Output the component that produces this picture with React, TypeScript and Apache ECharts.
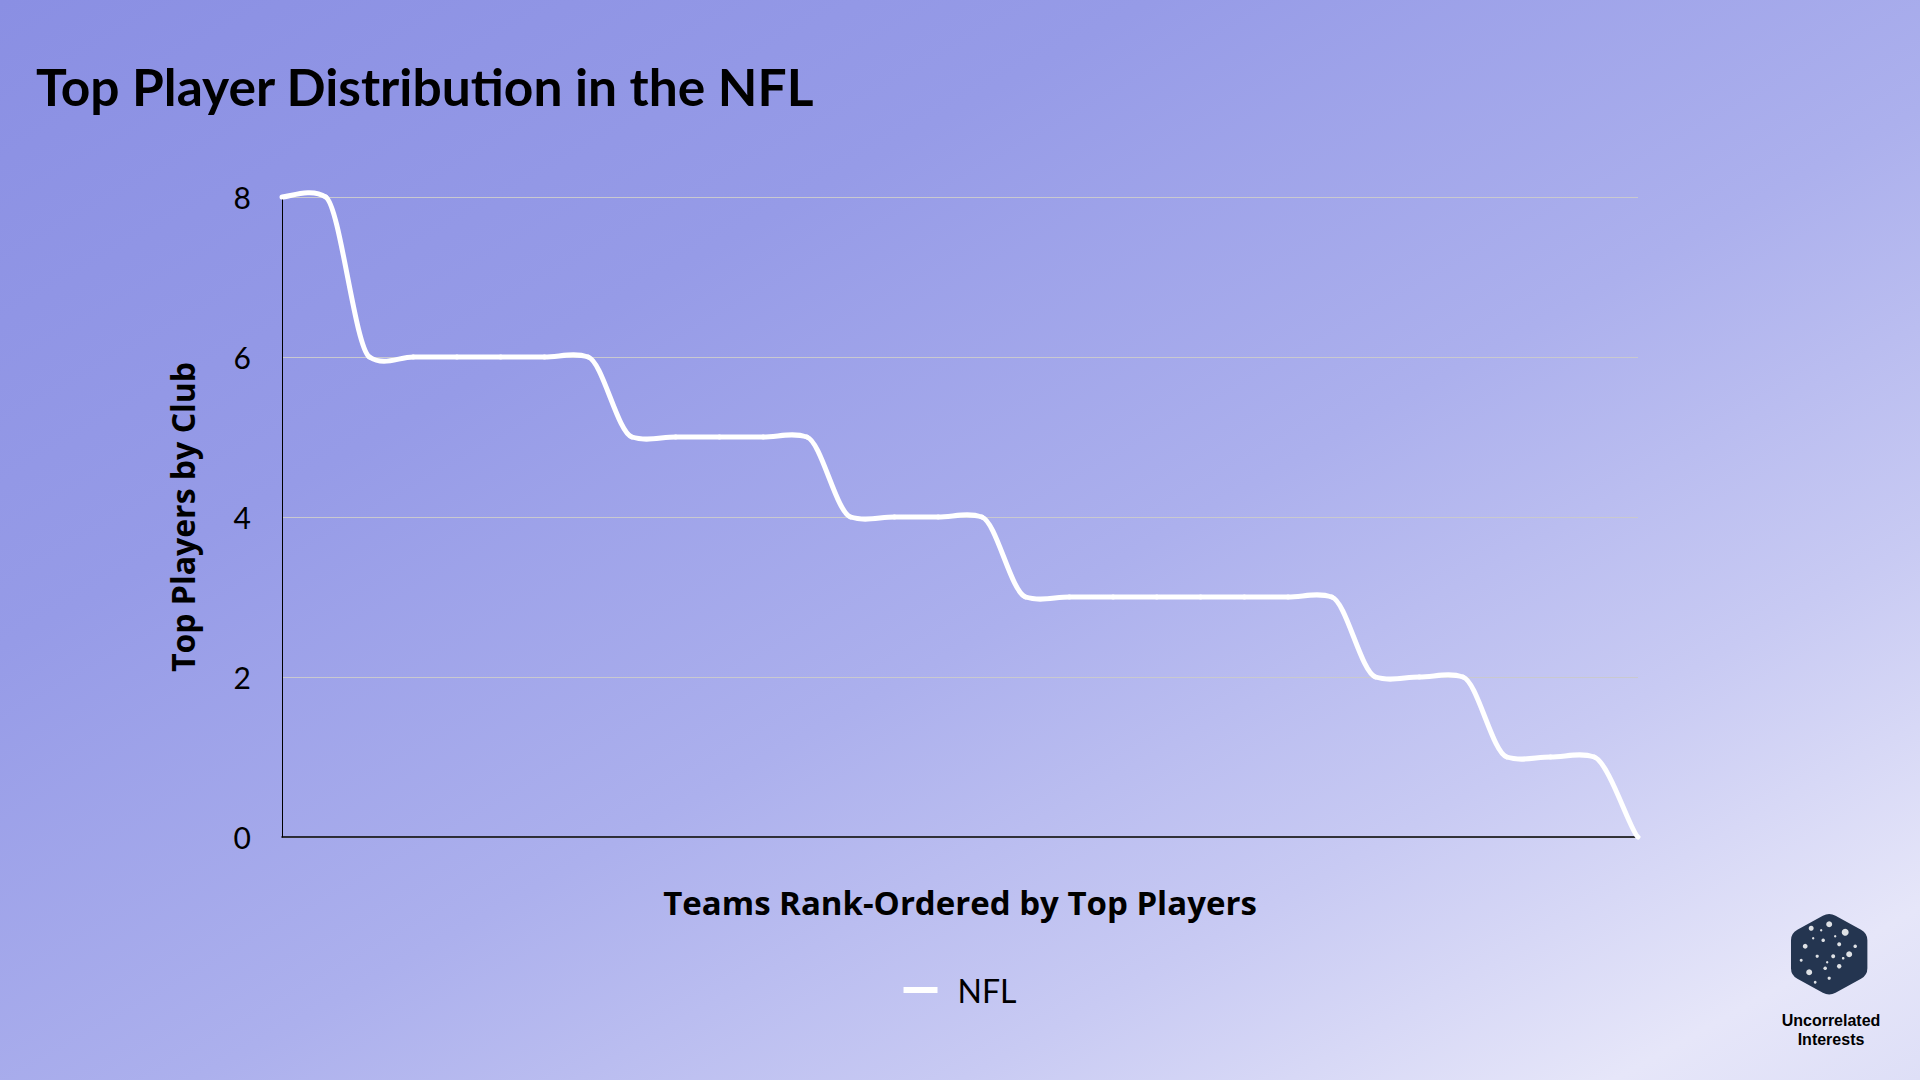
import React, { useEffect, useRef } from "react";
import * as echarts from "echarts";

const teams: string[] = Array.from({ length: 32 }, (_, i) => `Team ${i + 1}`);
const nflTopPlayers: number[] = [
  8, 8, 6, 6, 6, 6, 6, 6, 5, 5, 5, 5, 5, 4, 4, 4, 4, 3, 3, 3, 3, 3, 3, 3, 3, 2, 2, 2, 1, 1, 1, 0,
];
const yTicks = { min: 0, max: 8, interval: 2 };

const titleText = "Top Player Distribution in the NFL";
const xName = "Teams Rank-Ordered by Top Players";
const yName = "Top Players by Club";
const seriesName = "NFL";
const logoLines = "Uncorrelated\nInterests";

// hexagon with rounded corners for the logo
function roundedHexPath(cx: number, cy: number, r: number, rr: number) {
  const pts: [number, number][] = [];
  for (let i = 0; i < 6; i++) {
    const a = (Math.PI / 3) * i - Math.PI / 2;
    pts.push([cx + r * Math.cos(a), cy + r * Math.sin(a)]);
  }
  let d = "";
  for (let i = 0; i < 6; i++) {
    const p = pts[i];
    const prev = pts[(i + 5) % 6];
    const next = pts[(i + 1) % 6];
    const v1 = [prev[0] - p[0], prev[1] - p[1]];
    const v2 = [next[0] - p[0], next[1] - p[1]];
    const l1 = Math.hypot(v1[0], v1[1]);
    const l2 = Math.hypot(v2[0], v2[1]);
    const a1 = [p[0] + (v1[0] / l1) * rr, p[1] + (v1[1] / l1) * rr];
    const a2 = [p[0] + (v2[0] / l2) * rr, p[1] + (v2[1] / l2) * rr];
    d += (i === 0 ? "M" : "L") + a1[0].toFixed(2) + " " + a1[1].toFixed(2);
    d += "Q" + p[0].toFixed(2) + " " + p[1].toFixed(2) + " " + a2[0].toFixed(2) + " " + a2[1].toFixed(2);
  }
  return d + "Z";
}

let registered = false;

// spline tangent factors (horizontal / vertical)
const TX = 1 / 6;
const TY = 0.06;

export default function App() {
  const ref = useRef<HTMLDivElement>(null);

  useEffect(() => {
    document.body.style.margin = "0";
    if (!registered) {
      echarts.graphic.registerShape(
        "ucHex",
        echarts.graphic.extendPath(roundedHexPath(0, 0, 42, 7), {})
      );
      registered = true;
    }
    const chart = echarts.init(ref.current!, null, { renderer: "svg" });
    const stars = [
      [-18, -26, 2.5], [0, -30, 3], [16, -22, 3.5], [-6, -14, 1.8], [10, -10, 2],
      [-24, -8, 2.4], [-12, 2, 1.6], [4, 2, 2], [20, 0, 3], [-20, 18, 3], [-4, 14, 1.8],
      [10, 12, 2.2], [26, -8, 1.8], [-28, 6, 1.5], [0, 24, 1.6], [-14, 28, 1.4],
      [-8, -24, 1.2], [6, -18, 1.2], [-16, -16, 1.2], [14, 4, 1.3], [-2, 8, 1.2],
    ];
    const n = nflTopPlayers.length;
    const clampIdx = (k: number) => Math.max(0, Math.min(n - 1, k));

    chart.setOption({
      animation: false,
      backgroundColor: {
        type: "linear",
        x: 0,
        y: 0,
        x2: 923,
        y2: 1641,
        global: true,
        colorStops: [
          { offset: 0, color: "#8a8fe3" },
          { offset: 0.3, color: "#969be7" },
          { offset: 0.55, color: "#acb0ed" },
          { offset: 0.75, color: "#c8caf3" },
          { offset: 0.92, color: "#e6e6f9" },
          { offset: 1, color: "#dedff7" },
        ],
      },
      title: {
        text: titleText,
        left: 31,
        top: 55,
        textStyle: {
          fontFamily: "Lato",
          fontWeight: "bold",
          fontSize: 51.5,
          color: "#000",
        },
      },
      grid: { left: 282, right: 282, top: 197, bottom: 243 },
      legend: {
        data: [seriesName],
        left: "center",
        top: 969,
        icon: "rect",
        itemWidth: 34,
        itemHeight: 6,
        itemStyle: { color: "#ffffff" },
        textStyle: {
          fontFamily: "Lato",
          fontSize: 32,
          color: "#000",
          padding: [0, 0, 0, 15],
        },
      },
      xAxis: {
        type: "category",
        data: teams,
        boundaryGap: false,
        name: xName,
        nameLocation: "middle",
        nameGap: 49,
        nameTextStyle: {
          fontFamily: "Open Sans",
          fontWeight: "bold",
          fontSize: 33,
          color: "#000",
        },
        axisLine: { show: true, lineStyle: { color: "#000", width: 1.5 } },
        axisTick: { show: false },
        axisLabel: { show: false },
        splitLine: { show: false },
      },
      yAxis: {
        type: "value",
        min: yTicks.min,
        max: yTicks.max,
        interval: yTicks.interval,
        name: yName,
        nameLocation: "middle",
        nameGap: 84,
        nameTextStyle: {
          fontFamily: "Open Sans",
          fontWeight: "bold",
          fontSize: 32,
          color: "#000",
        },
        axisLine: { show: true, lineStyle: { color: "#000", width: 1 } },
        axisTick: { show: false },
        axisLabel: {
          fontFamily: "Lato",
          fontSize: 30,
          color: "#000",
          margin: 31,
        },
        splitLine: { show: true, lineStyle: { color: "#c9c9cf", width: 1 } },
      },
      series: [
        {
          name: seriesName,
          type: "custom",
          clip: false,
          data: nflTopPlayers.map((v, i) => [i, v]),
          encode: { x: 0, y: 1 },
          itemStyle: { color: "#ffffff" },
          renderItem: (params: any, api: any) => {
            const i = params.dataIndex;
            if (i >= n - 1) return null;
            const P = (k: number) => {
              const c = clampIdx(k);
              return api.coord([c, nflTopPlayers[c]]);
            };
            const p0 = P(i - 1);
            const p1 = P(i);
            const p2 = P(i + 1);
            const p3 = P(i + 2);
            return {
              type: "bezierCurve",
              shape: {
                x1: p1[0],
                y1: p1[1],
                x2: p2[0],
                y2: p2[1],
                cpx1: p1[0] + (p2[0] - p0[0]) * TX,
                cpy1: p1[1] + (p2[1] - p0[1]) * TY,
                cpx2: p2[0] - (p3[0] - p1[0]) * TX,
                cpy2: p2[1] - (p3[1] - p1[1]) * TY,
              },
              style: {
                fill: "none",
                stroke: "#ffffff",
                lineWidth: 5,
                lineCap: "round",
              },
            };
          },
        },
      ],
      graphic: [
        {
          type: "group",
          left: 1791,
          top: 914,
          children: [
            {
              type: "ucHex",
              x: 40,
              y: 42,
              scaleX: 1.05,
              style: { fill: "#243550" },
            },
            ...stars.map((s) => ({
              type: "circle",
              shape: { cx: 40 + s[0], cy: 42 + s[1], r: s[2] },
              style: { fill: "rgba(255,255,255,0.85)" },
            })),
          ],
        },
        {
          type: "text",
          x: 1831,
          y: 1011,
          style: {
            text: logoLines,
            fontFamily: "Liberation Sans",
            fontWeight: "bold",
            fontSize: 16,
            lineHeight: 19,
            fill: "#000",
            align: "center",
            verticalAlign: "top",
          },
        },
      ],
    });
    return () => chart.dispose();
  }, []);

  return <div ref={ref} style={{ width: 1920, height: 1080 }} />;
}
